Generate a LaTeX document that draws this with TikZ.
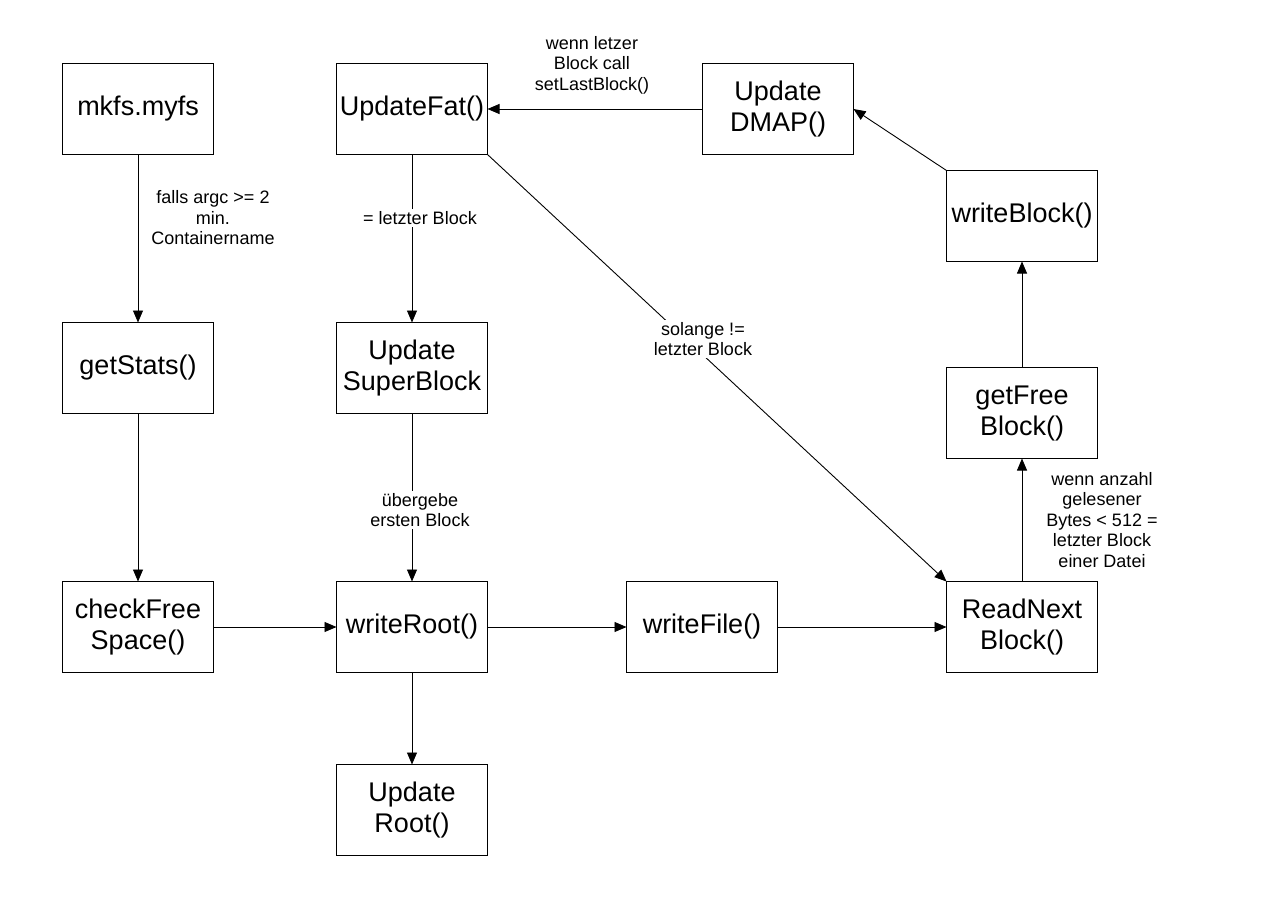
\documentclass[tikz,border=0pt]{standalone}
\usepackage{fontspec}
\setmainfont{Liberation Sans}
\usetikzlibrary{arrows.meta, positioning}

\begin{document}
\begin{tikzpicture}[
    x=1pt, y=-1pt,
    func/.style={rectangle, draw=black, line width=1.6pt, outer sep=0pt, fill=white, minimum width=151pt, minimum height=91pt, inner sep=2pt, align=center, font=\fontsize{27}{31}\selectfont},
    note/.style={align=center, font=\fontsize{18}{20.5}\selectfont, inner sep=2pt},
    notebg/.style={note, fill=white},
    arrow/.style={-{Triangle[length=12pt, width=10pt]}, line width=0.9pt, draw=black}
]
\useasboundingbox (0,0) rectangle (1268,897);

% linke Spalte
\node[func] at (138,109) (mkfs) {mkfs.myfs};
\node[func, below=168pt of mkfs] (stats) {getStats()};
\node[func, below=168pt of stats] (checkfree) {checkFree\\Space()};

% untere Reihe
\node[func, right=123pt of checkfree] (wroot) {writeRoot()};
\node[func, right=139pt of wroot] (wfile) {writeFile()};
\node[func, right=169pt of wfile] (readnext) {ReadNext\\Block()};
\node[func, below=92pt of wroot] (updroot) {Update\\Root()};

% rechte Spalte
\node[func, above=123pt of readnext] (getfree) {getFree\\Block()};
\node[func, above=106pt of getfree] (wblock) {writeBlock()};

% mittlere Spalte
\node[func, above=168pt of wroot] (supblock) {Update\\SuperBlock};
\node[func, above=168pt of supblock] (updfat) {UpdateFat()};
\node[func, right=215pt of updfat] (dmap) {Update\\DMAP()};

% Verbindungen
\draw[arrow] (mkfs) -- (stats);
\draw[arrow] (stats) -- (checkfree);
\draw[arrow] (checkfree) -- (wroot);
\draw[arrow] (wroot) -- (wfile);
\draw[arrow] (wfile) -- (readnext);
\draw[arrow] (wroot) -- (updroot);
\draw[arrow] (readnext) -- (getfree);
\draw[arrow] (getfree) -- (wblock);
\draw[arrow] (wblock.north west) -- (dmap.east);
\draw[arrow] (dmap) -- (updfat);
\draw[arrow] (updfat) -- (supblock);
\draw[arrow] (supblock) -- (wroot);
\draw[arrow] (updfat.south east) -- (readnext.north west);

% Beschriftungen
\node[note] at (213,218) (lblargc) {falls argc >= 2\\min.\\Containername};
\node[notebg] at (420,218) (lbllast) {= letzter Block};
\node[notebg] at (420,510) (lblfirst) {übergebe\\ersten Block};
\node[notebg] at (703,339) (lblwhile) {solange !=\\letzter Block};
\node[note] at (592,65) (lblcall) {wenn letzer\\Block call\\setLastBlock()};
\node[note] at (1102,520) (lblbytes) {wenn anzahl\\gelesener\\Bytes < 512 =\\letzter Block\\einer Datei};
\end{tikzpicture}
\end{document}
